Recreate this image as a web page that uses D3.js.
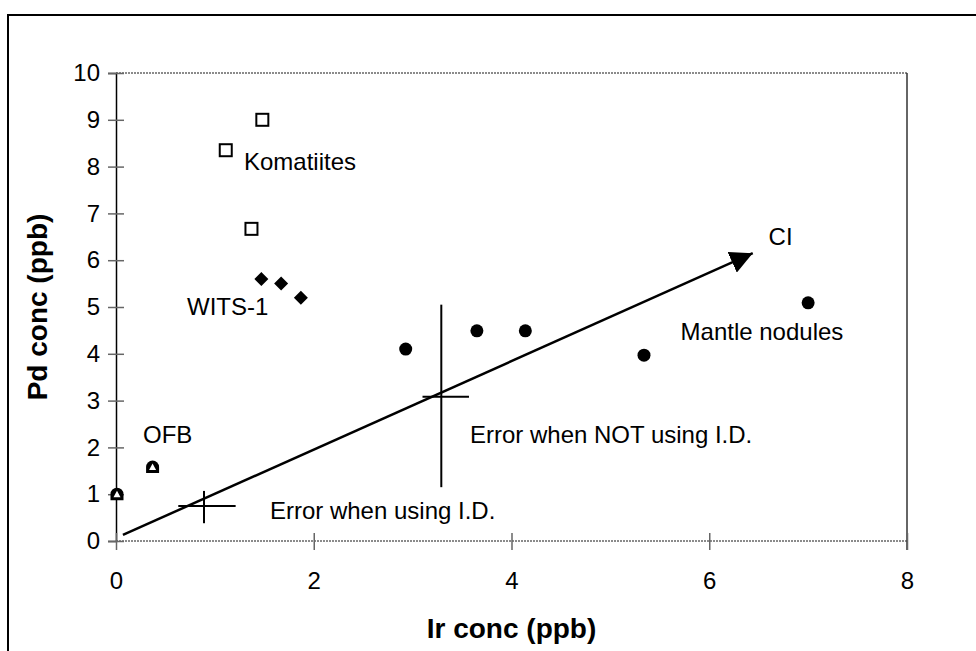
<!DOCTYPE html>
<html><head><meta charset="utf-8">
<script src="https://cdn.jsdelivr.net/npm/d3@7"></script>
<style>
html,body{margin:0;padding:0;background:#fff;}
svg{display:block;font-family:"Liberation Sans",Arial,sans-serif;}
</style></head>
<body><svg id="c" width="976" height="651"></svg>
<script>
// ---- data ----
const xTicks = [0, 2, 4, 6, 8];
const yTicks = [0, 1, 2, 3, 4, 5, 6, 7, 8, 9, 10];
const komatiitesX = [1.48, 1.11, 1.37];
const komatiitesY = [9.0, 8.35, 6.67];
const witsX = [1.47, 1.67, 1.87];
const witsY = [5.6, 5.5, 5.2];
const mantleX = [2.93, 3.65, 4.14, 5.34, 7.0];
const mantleY = [4.1, 4.49, 4.49, 3.97, 5.09];
const ofbX = [0.01, 0.37];
const ofbY = [1.0, 1.58];
const errX = [0.89, 3.29];
const errY = [0.75, 3.08];
const errXLow = [0.63, 3.10];
const errXHigh = [1.21, 3.57];
const errYLow = [0.38, 1.15];
const errYHigh = [1.07, 5.05];
const ciLineX = [0.07, 6.44];
const ciLineY = [0.13, 6.15];
const labels = [
  {text: "Komatiites", x: 1.294, y: 7.93},
  {text: "WITS-1", x: 0.718, y: 4.83},
  {text: "CI", x: 6.60, y: 6.32},
  {text: "Mantle nodules", x: 5.71, y: 4.29},
  {text: "OFB", x: 0.273, y: 2.09},
  {text: "Error when NOT using I.D.", x: 3.58, y: 2.09},
  {text: "Error when using I.D.", x: 1.557, y: 0.47}
];
const xTitle = "Ir conc (ppb)";
const yTitle = "Pd conc (ppb)";

// ---- chart ----
const svg = d3.select("#c");
const x = d3.scaleLinear().domain([0, 8]).range([116, 907]);
const y = d3.scaleLinear().domain([0, 10]).range([541, 73]);

// outer frame
svg.append("path").attr("d", "M8,651 L8,15 L976,15").attr("fill", "none")
  .attr("stroke", "#000").attr("stroke-width", 2);

const grey = "#666";
// top border (y=10) and x-axis line
svg.append("line").attr("x1", x(0)).attr("x2", x(8)).attr("y1", y(10)).attr("y2", y(10))
  .attr("stroke", grey).attr("stroke-width", 1.5).attr("stroke-dasharray", "2,1");
svg.append("line").attr("x1", x(0)).attr("x2", x(8)).attr("y1", y(0)).attr("y2", y(0))
  .attr("stroke", grey).attr("stroke-width", 1.5).attr("stroke-dasharray", "2,1");
// right border
svg.append("line").attr("x1", x(8)).attr("x2", x(8)).attr("y1", y(10)).attr("y2", y(0) + 9)
  .attr("stroke", "#333").attr("stroke-width", 1.5);

// y axis
const yAxis = svg.append("g").attr("transform", `translate(${x(0)},0)`)
  .call(d3.axisLeft(y).tickValues(yTicks).tickFormat(d3.format("d")).tickSize(8).tickPadding(8));
yAxis.select(".domain").attr("stroke", "#000").attr("stroke-width", 1.5);
yAxis.selectAll(".tick line").attr("x1", 8).attr("stroke", grey).attr("stroke-width", 1.5);
yAxis.selectAll(".tick text").attr("font-size", 24).attr("fill", "#000")
  .attr("font-family", "Liberation Sans, Arial, sans-serif");

// x axis
const xAxis = svg.append("g").attr("transform", `translate(0,${y(0)})`)
  .call(d3.axisBottom(x).tickValues(xTicks).tickFormat(d3.format("d")).tickSize(9).tickPadding(22));
xAxis.select(".domain").remove();
xAxis.selectAll(".tick line").attr("y1", -8).attr("stroke", grey).attr("stroke-width", 1.5);
xAxis.selectAll(".tick text").attr("font-size", 24).attr("fill", "#000")
  .attr("font-family", "Liberation Sans, Arial, sans-serif");

// axis titles
svg.append("text").attr("x", (x(0) + x(8)) / 2).attr("y", 638).attr("text-anchor", "middle")
  .attr("font-size", 28).attr("font-weight", "bold").text(xTitle);
svg.append("text").attr("transform", `translate(47,${(y(0) + y(10)) / 2}) rotate(-90)`)
  .attr("text-anchor", "middle").attr("font-size", 28).attr("font-weight", "bold").text(yTitle);

// CI arrow
svg.append("defs").append("marker").attr("id", "ah").attr("viewBox", "0 0 10 10")
  .attr("refX", 10).attr("refY", 5).attr("markerWidth", 9).attr("markerHeight", 9)
  .attr("markerUnits", "strokeWidth").attr("orient", "auto")
  .append("path").attr("d", "M0,0 L10,5 L0,10 Z").attr("fill", "#000");
svg.append("line").attr("x1", x(ciLineX[0])).attr("y1", y(ciLineY[0]))
  .attr("x2", x(ciLineX[1])).attr("y2", y(ciLineY[1]))
  .attr("stroke", "#000").attr("stroke-width", 2.5).attr("marker-end", "url(#ah)");

// error crosses
errX.forEach((d, i) => {
  svg.append("line").attr("x1", x(errXLow[i])).attr("x2", x(errXHigh[i]))
    .attr("y1", y(errY[i])).attr("y2", y(errY[i])).attr("stroke", "#000").attr("stroke-width", 2);
  svg.append("line").attr("x1", x(d)).attr("x2", x(d))
    .attr("y1", y(errYLow[i])).attr("y2", y(errYHigh[i])).attr("stroke", "#000").attr("stroke-width", 2);
});

// komatiites squares
svg.selectAll(".kom").data(komatiitesX).enter().append("rect")
  .attr("x", (d) => x(d) - 6).attr("y", (d, i) => y(komatiitesY[i]) - 6)
  .attr("width", 12).attr("height", 12).attr("fill", "#fff").attr("stroke", "#000").attr("stroke-width", 2);

// WITS-1 diamonds
svg.selectAll(".wits").data(witsX).enter().append("path")
  .attr("d", (d, i) => `M${x(d)},${y(witsY[i]) - 7} l7,7 l-7,7 l-7,-7 Z`)
  .attr("fill", "#000");

// mantle nodules circles
svg.selectAll(".mn").data(mantleX).enter().append("circle")
  .attr("cx", (d) => x(d)).attr("cy", (d, i) => y(mantleY[i])).attr("r", 6.5).attr("fill", "#000");

// OFB markers
ofbX.forEach((d, i) => {
  const cx = x(d), cy = y(ofbY[i]);
  svg.append("path").attr("d", `M${cx - 6.5},${cy + 6} L${cx - 6.5},${cy} A6.5,6.5 0 0 1 ${cx + 6.5},${cy} L${cx + 6.5},${cy + 6} Z`)
    .attr("fill", "#000");
  svg.append("path").attr("d", `M${cx},${cy - 3.5} L${cx + 3.5},${cy + 3} L${cx - 3.5},${cy + 3} Z`)
    .attr("fill", "#fff");
});

// labels
svg.selectAll(".lbl").data(labels).enter().append("text")
  .attr("x", (d) => x(d.x)).attr("y", (d) => y(d.y)).attr("font-size", 24).attr("fill", "#000")
  .text((d) => d.text);
</script></body></html>
